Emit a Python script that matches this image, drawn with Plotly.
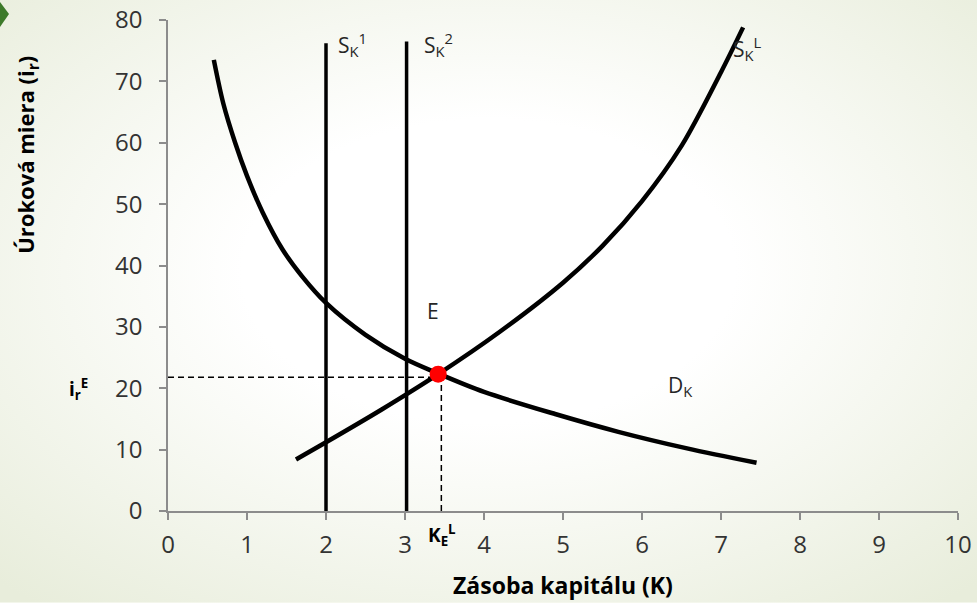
import base64
import plotly.graph_objects as go

# ---------- data ----------
k_ticks = list(range(0, 11))
i_ticks = list(range(0, 81, 10))

# demand for capital D_K
dk_k = [0.58, 0.7, 0.85, 1.0, 1.2, 1.45, 1.7, 2.0, 2.5, 3.0, 3.42, 4.0, 4.9, 5.7, 6.57, 7.45]
dk_i = [73.5, 66.4, 60.0, 54.6, 48.6, 42.6, 38.2, 33.9, 28.7, 24.8, 22.4, 19.4, 15.8, 12.9, 10.2, 7.85]

# long-run supply S_K^L
skl_k = [1.62, 2.0, 2.7, 3.42, 4.2, 5.0, 5.5, 6.0, 6.5, 7.0, 7.28]
skl_i = [8.4, 11.2, 16.5, 22.3, 29.2, 37.2, 43.2, 50.5, 59.5, 71.5, 78.8]

# short-run supplies (vertical)
sk1_k = [2.0, 2.0]
sk1_i = [0, 76.2]
sk2_k = [3.02, 3.02]
sk2_i = [0, 76.5]

# equilibrium
eq_k = 3.42
eq_i = 22.3
hdash_k = [0, 3.35]
hdash_i = [21.8, 21.8]
vdash_k = [3.46, 3.46]
vdash_i = [0, 21.0]

# ---------- geometry helpers (pixels -> paper) ----------
W, H = 977, 603
L, R, T, B = 168, 19, 20, 91.5
PW, PH = W - L - R, H - T - B


def px(x):
    return (x - L) / PW


def py(y):
    return (H - B - y) / PH


FONT = "Open Sans"
BLACK = "#000000"

fig = go.Figure()

curve = dict(color=BLACK, width=4.5, shape="spline", smoothing=0.9)
fig.add_trace(go.Scatter(x=dk_k, y=dk_i, mode="lines", line=curve))
fig.add_trace(go.Scatter(x=skl_k, y=skl_i, mode="lines", line=curve))
fig.add_trace(go.Scatter(x=sk1_k, y=sk1_i, mode="lines", line=dict(color=BLACK, width=3.5)))
fig.add_trace(go.Scatter(x=sk2_k, y=sk2_i, mode="lines", line=dict(color=BLACK, width=3.5)))
fig.add_trace(go.Scatter(x=hdash_k, y=hdash_i, mode="lines",
                         line=dict(color=BLACK, width=1.5, dash="6px,4px")))
fig.add_trace(go.Scatter(x=vdash_k, y=vdash_i, mode="lines",
                         line=dict(color=BLACK, width=1.5, dash="6px,4px")))
fig.add_trace(go.Scatter(x=[eq_k], y=[eq_i], mode="markers",
                         marker=dict(color="#ff0000", size=17, line=dict(width=0))))

lab = dict(family=FONT, size=21, color="#262626")
annotations = [
    dict(x=2.13, y=76.0, text="S<sub>K</sub><sup>1</sup>", xanchor="left", font=lab),
    dict(x=3.22, y=76.0, text="S<sub>K</sub><sup>2</sup>", xanchor="left", font=lab),
    dict(x=7.13, y=75.3, text="S<sub>K</sub><sup>L</sup>", xanchor="left", font=lab),
    dict(x=3.35, y=32.6, text="E", font=lab),
    dict(x=6.3, y=20.4, text="D<sub>K</sub>", xanchor="left", font=lab),
]
for a in annotations:
    a.update(xref="x", yref="y", showarrow=False, yanchor="middle")

# labels that sit outside the axes (paper coordinates, otherwise plotly hides them)
bold_small = dict(family=FONT, size=19, color=BLACK)
annotations += [
    dict(xref="paper", yref="paper", x=px(78), y=py(389), xanchor="center", yanchor="middle",
         text="<b>i<sub>r</sub><sup>E</sup></b>", showarrow=False, font=bold_small),
    dict(xref="paper", yref="paper", x=px(442), y=py(536), xanchor="center", yanchor="middle",
         text="<b>K<sub>E</sub><sup>L</sup></b>", showarrow=False, font=bold_small),
    dict(xref="paper", yref="paper", x=px(27), y=py(155), textangle=-90,
         xanchor="center", yanchor="middle",
         text="<b>Úroková miera (i<sub>r</sub>)</b>", showarrow=False,
         font=dict(family=FONT, size=22, color=BLACK)),
    dict(xref="paper", yref="paper", x=0.5, y=py(586), xanchor="center", yanchor="middle",
         text="<b>Zásoba kapitálu (K)</b>", showarrow=False,
         font=dict(family=FONT, size=23, color=BLACK)),
]

# soft radial background like the slide
svg = ('<svg xmlns="http://www.w3.org/2000/svg" width="977" height="603" '
       'preserveAspectRatio="none">'
       '<defs><radialGradient id="g" cx="0.5" cy="0.45" r="0.72">'
       '<stop offset="0.35" stop-color="#ffffff"/>'
       '<stop offset="1" stop-color="#e8eddb"/></radialGradient></defs>'
       '<rect width="977" height="603" fill="url(#g)"/></svg>')
bg = "data:image/svg+xml;base64," + base64.b64encode(svg.encode()).decode()

axis_common = dict(
    showgrid=False, zeroline=False, showline=True, linecolor="#8c8c8c", linewidth=1.5,
    ticks="outside", ticklen=7, tickcolor="#8c8c8c", tickwidth=1.5,
    tickfont=dict(family=FONT, size=24, color="#333333"),
    fixedrange=True, automargin=False,
)

fig.update_layout(
    width=W, height=H,
    margin=dict(l=L, r=R, t=T, b=B, autoexpand=False),
    paper_bgcolor="#f6f8ef",
    plot_bgcolor="rgba(0,0,0,0)",
    showlegend=False,
    xaxis=dict(axis_common, range=[0, 10], tickvals=k_ticks, ticklabelstandoff=4),
    yaxis=dict(axis_common, range=[0, 80], tickvals=i_ticks, ticklabelstandoff=12),
    annotations=annotations,
    images=[dict(source=bg, xref="paper", yref="paper", x=px(0), y=py(0),
                 sizex=W / PW, sizey=H / PH, xanchor="left", yanchor="top",
                 sizing="stretch", layer="below")],
    shapes=[dict(type="path", xref="paper", yref="paper",
                 path=f"M {px(0)} {py(2)} L {px(9)} {py(14)} L {px(0)} {py(27)} Z",
                 fillcolor="#3d7a2a", line=dict(width=0))],
)

# page without the default body margin, so the figure sits at the window corner
fig.write_html("out.html", config=dict(displayModeBar=False),
               post_script="document.body.style.margin='0';"
                           "document.body.style.overflow='hidden';")
